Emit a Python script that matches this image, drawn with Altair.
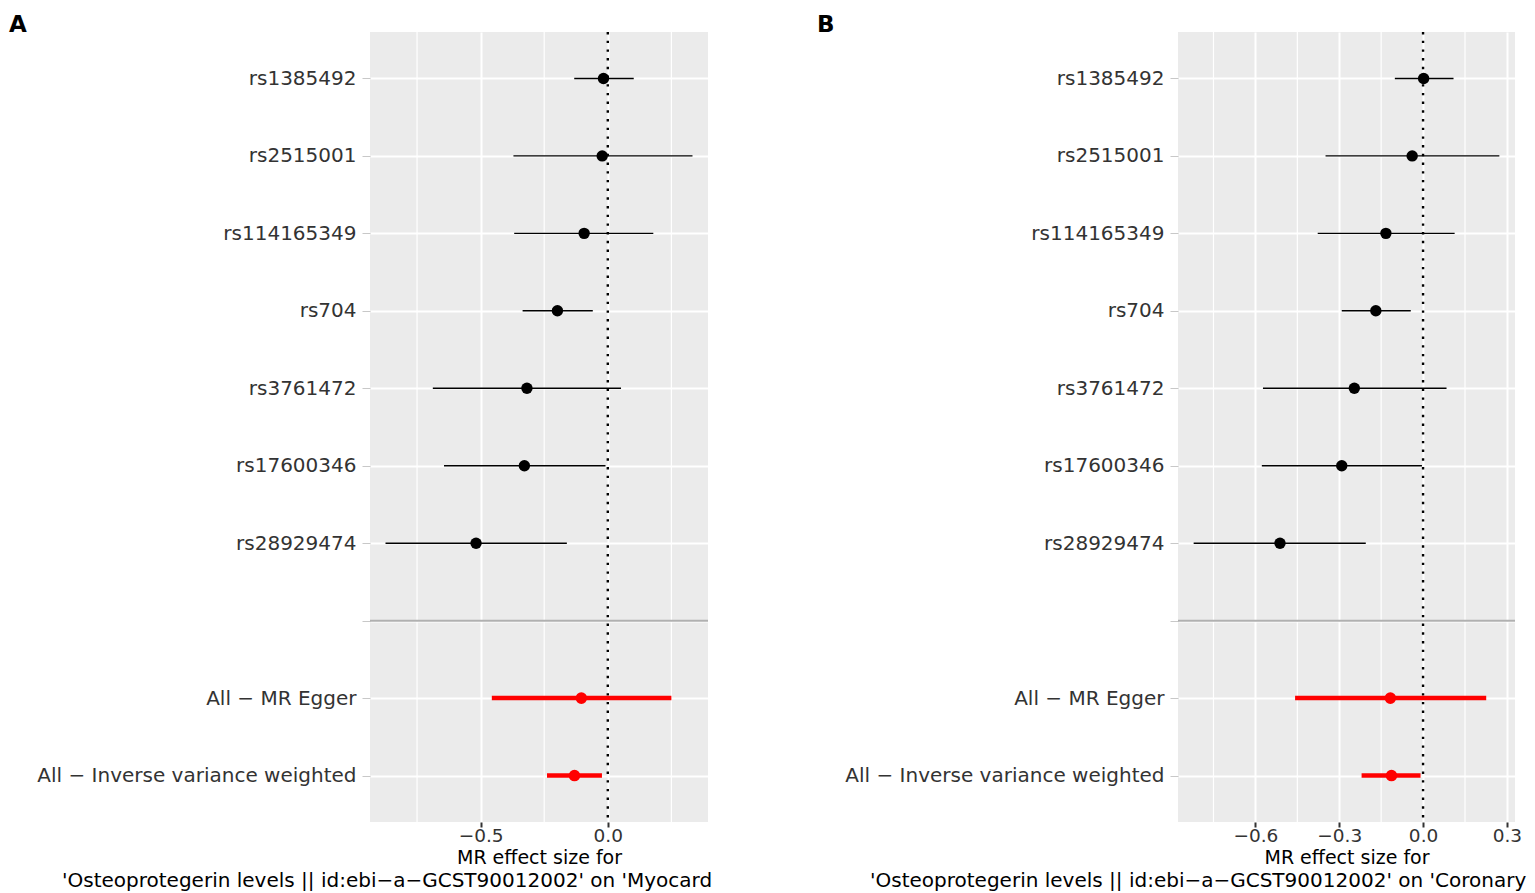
import altair as alt
import pandas as pd

FONT = "DejaVu Sans"

# ---- categories (top to bottom) ----
rows = ["rs1385492", "rs2515001", "rs114165349", "rs704", "rs3761472",
        "rs17600346", "rs28929474", " ", "All − MR Egger",
        "All − Inverse variance weighted"]
snps = rows[:7]
blank_row = rows[7]
summaries = rows[8:]

# ---- panel A values ----
a_b = [-0.017, -0.022, -0.093, -0.198, -0.318, -0.328, -0.518]
a_lo = [-0.132, -0.371, -0.368, -0.335, -0.688, -0.644, -0.874]
a_hi = [0.102, 0.333, 0.179, -0.059, 0.052, -0.009, -0.161]
a_sum_b = [-0.104, -0.131]
a_sum_lo = [-0.456, -0.239]
a_sum_hi = [0.250, -0.023]
a_domain = [-0.935, 0.394]
a_major = [-0.5, 0.0]
a_minor = [-0.75, -0.25, 0.25]
a_line2 = "'Osteoprotegerin levels || id:ebi−a−GCST90012002' on 'Myocard"

# ---- panel B values ----
b_b = [0.002, -0.039, -0.133, -0.169, -0.246, -0.291, -0.512]
b_lo = [-0.101, -0.349, -0.377, -0.291, -0.573, -0.577, -0.821]
b_hi = [0.109, 0.273, 0.113, -0.044, 0.084, -0.004, -0.205]
b_sum_b = [-0.117, -0.113]
b_sum_lo = [-0.458, -0.220]
b_sum_hi = [0.226, -0.009]
b_domain = [-0.877, 0.329]
b_major = [-0.6, -0.3, 0.0, 0.3]
b_minor = [-0.75, -0.45, -0.15, 0.15]
b_line2 = "'Osteoprotegerin levels || id:ebi−a−GCST90012002' on 'Coronary"

x_title = "MR effect size for"
null_effect = [0.0]


def panel(letter, b, lo, hi, sb, slo, shi, domain, majors, minors, line2,
          width, limit):
    snp_df = pd.DataFrame({"row": snps, "b": b, "lo": lo, "hi": hi})
    sum_df = pd.DataFrame({"row": summaries, "b": sb, "lo": slo, "hi": shi})
    minor_df = pd.DataFrame({"v": minors})
    zero_df = pd.DataFrame({"v": null_effect})
    sep_df = pd.DataFrame({"row": [blank_row]})
    txt_df = pd.DataFrame({"t": [line2]})

    xs = alt.Scale(domain=domain, nice=False, zero=False)
    ys = alt.Scale(type="point", domain=rows, padding=0.6)
    xaxis = alt.Axis(values=majors, format=".1f", grid=True, gridColor="white",
                     gridWidth=2, domain=False, tickColor="#333333",
                     tickWidth=2, tickSize=5, labelFontSize=18.5,
                     labelColor="#333333", labelBaseline="alphabetic",
                     labelPadding=14, title=x_title, titleFontSize=19,
                     titleFontWeight="normal", titleColor="black",
                     titleBaseline="alphabetic", titleY=41)
    yaxis = alt.Axis(title=None, grid=True, gridColor="white", gridWidth=2,
                     domain=False, tickColor="#c8c8c8", tickWidth=1,
                     tickSize=8, labelPadding=6, labelFontSize=20,
                     labelColor="#333333", labelLimit=500)

    def X(f):
        return alt.X(f, type="quantitative", scale=xs, axis=xaxis)

    def Y(f):
        return alt.Y(f, type="nominal", scale=ys, axis=yaxis, sort=rows)

    minor = alt.Chart(minor_df).mark_rule(color="white", strokeWidth=1.2).encode(x=X("v"))
    sep = alt.Chart(sep_df).mark_rule(color="#b0b0b0", strokeWidth=2).encode(y=Y("row"))
    zero = alt.Chart(zero_df).mark_rule(color="black", strokeWidth=2.4,
                                        strokeDash=[2.4, 6.3]).encode(x=X("v"))
    snp_bar = alt.Chart(snp_df).mark_rule(color="black", strokeWidth=1.4).encode(
        x=X("lo"), x2="hi", y=Y("row"))
    snp_pt = alt.Chart(snp_df).mark_circle(color="black", opacity=1, size=130).encode(
        x=X("b"), y=Y("row"))
    sum_bar = alt.Chart(sum_df).mark_rule(color="#ff0000", strokeWidth=4.5).encode(
        x=X("lo"), x2="hi", y=Y("row"))
    sum_pt = alt.Chart(sum_df).mark_circle(color="#ff0000", opacity=1, size=135).encode(
        x=X("b"), y=Y("row"))
    txt = alt.Chart(txt_df).mark_text(align="left", baseline="alphabetic",
                                      fontSize=20, font=FONT, color="black",
                                      limit=limit, ellipsis="").encode(
        x=alt.value(-308), y=alt.value(855), text="t:N")

    return alt.layer(minor, sep, zero, snp_bar, snp_pt, sum_bar, sum_pt, txt).properties(
        width=width, height=790,
        title=alt.TitleParams(text=letter, anchor="start", frame="group",
                              dx=-361, fontSize=23, font=FONT,
                              fontWeight="bold", color="black",
                              baseline="alphabetic", offset=-24))


pa = panel("A", a_b, a_lo, a_hi, a_sum_b, a_sum_lo, a_sum_hi, a_domain,
           a_major, a_minor, a_line2, 338, 662)
pb = panel("B", b_b, b_lo, b_hi, b_sum_b, b_sum_lo, b_sum_hi, b_domain,
           b_major, b_minor, b_line2, 337, 664)

chart = alt.hconcat(pa, pb, spacing=104).properties(
    padding={"left": 1, "top": 5, "right": 0, "bottom": 0}
).configure_view(fill="#EBEBEB", stroke=None).configure_axis(
    labelFont=FONT, titleFont=FONT
).configure_title(font=FONT)

chart.save("out.html", embed_options={"renderer": "svg", "actions": False})
